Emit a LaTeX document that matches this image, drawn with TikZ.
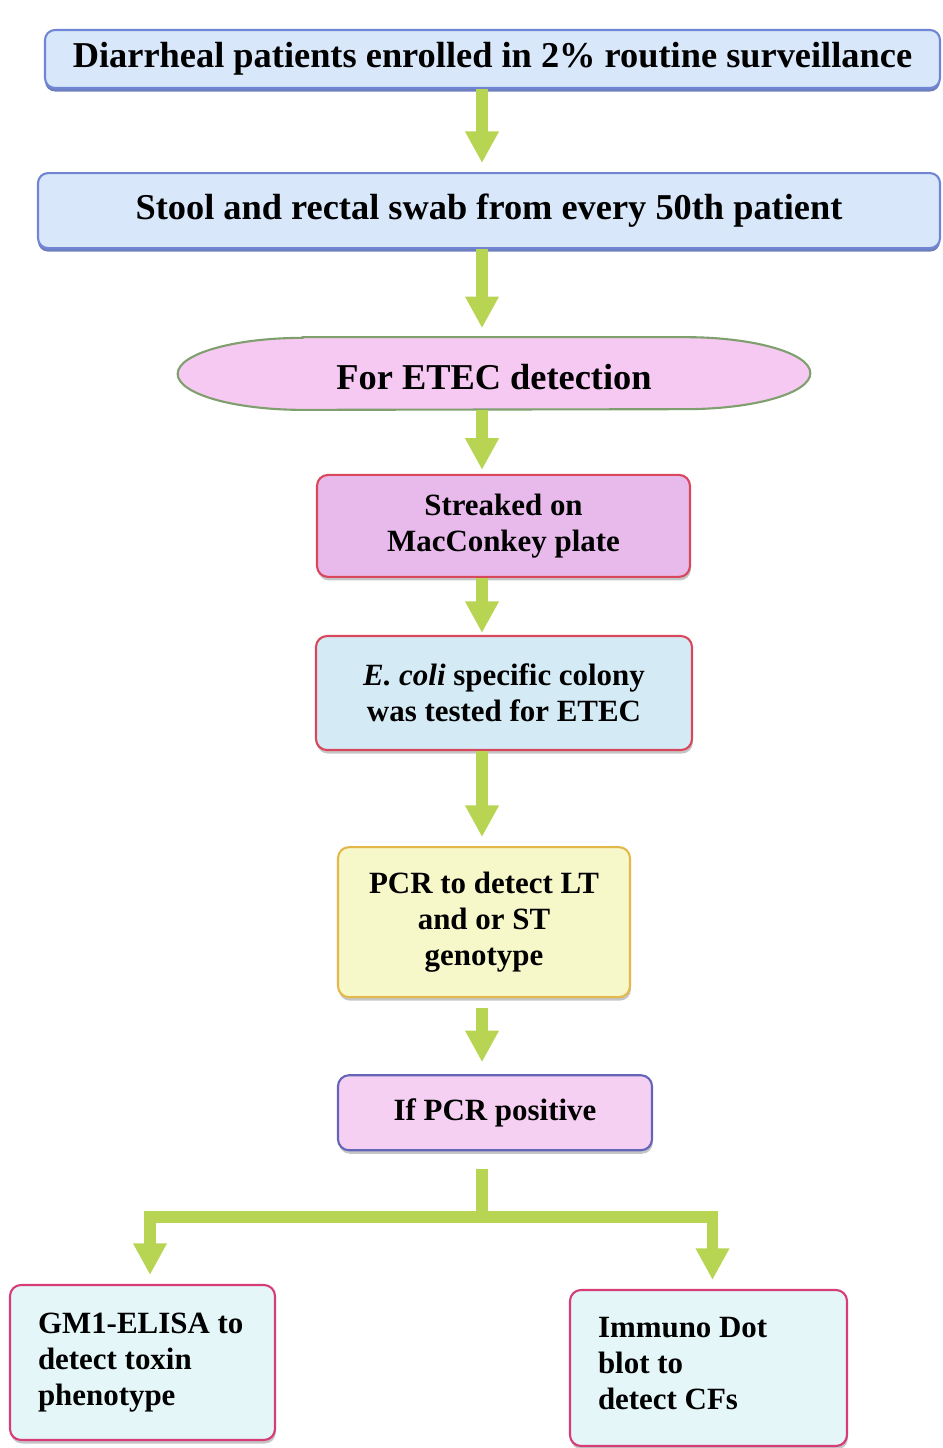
\documentclass[tikz,border=0pt]{standalone}
\usepackage{fontspec}
\setmainfont{Liberation Serif}
\usetikzlibrary{positioning, arrows.meta, shadows, backgrounds}

\definecolor{flowgreen}{HTML}{B7D452}
\definecolor{skyfill}{HTML}{D9E7FA}
\definecolor{skyline}{HTML}{7086D4}
\definecolor{skyshadow}{HTML}{4A5FB0}
\definecolor{pinkfill}{HTML}{F6C9F2}
\definecolor{ovalline}{HTML}{7FA06E}
\definecolor{lilacfill}{HTML}{E8BAEC}
\definecolor{redline}{HTML}{D8475C}
\definecolor{icefill}{HTML}{D4EBF6}
\definecolor{creamfill}{HTML}{F6F8CA}
\definecolor{goldline}{HTML}{E4B84A}
\definecolor{rosefill}{HTML}{F5D0F2}
\definecolor{violetline}{HTML}{6464B8}
\definecolor{mintfill}{HTML}{E4F6F8}
\definecolor{magline}{HTML}{D63C78}

\newcommand{\bigtext}{\bfseries\fontsize{20.7}{24}\selectfont}
\newcommand{\smalltext}{\bfseries\fontsize{17.6}{20.4}\selectfont}

\begin{document}
\begin{tikzpicture}
	% style
	[wide/.style={rectangle, rounded corners=0.2cm, draw=skyline, line width=1.2pt, fill=skyfill, inner sep=0pt, font=\bigtext, drop shadow={shadow xshift=0pt, shadow yshift=-2pt, fill=skyshadow, opacity=0.8}},
	oval/.style={rectangle, inner sep=0pt, font=\bigtext},
	oval_line/.style={draw=ovalline, line width=1.2pt, fill=pinkfill},
	step_box/.style={rectangle, rounded corners=0.22cm, line width=1.2pt, inner sep=0pt, align=center, font=\smalltext, drop shadow={shadow xshift=0.5pt, shadow yshift=-2pt, fill=black!45, opacity=0.5}},
	result_box/.style={step_box, draw=magline, fill=mintfill, align=flush left},
	flow/.style={-{Triangle[width=18pt,length=18pt]}, line width=6.8pt, draw=flowgreen, shorten >=0.18cm},
	trunk/.style={line width=6.8pt, draw=flowgreen}]

	\useasboundingbox (0,0) rectangle (18.84,-28.96);

	% surveillance
	\node [wide, minimum width=17.9cm, minimum height=1.16cm] (diarrhea) at (9.85,-1.18) {Diarrheal patients enrolled in 2\% routine surveillance};
	\node [wide, minimum width=18.04cm, minimum height=1.5cm] (stool) [below=1.66cm of diarrhea, xshift=-0.07cm] {Stool and rectal swab from every 50th patient};
	\node [oval, minimum width=12.64cm, minimum height=1.44cm, text height=0.66cm] (etec) [below=1.76cm of stool, xshift=0.1cm] {For ETEC detection};
	\begin{scope}[on background layer]
	\draw [oval_line] ([xshift=2.5cm]etec.north west) -- ([xshift=-2.5cm]etec.north east)
		arc [start angle=90, end angle=-90, x radius=2.5cm, y radius=0.72cm]
		-- ([xshift=2.5cm]etec.south west)
		arc [start angle=270, end angle=90, x radius=2.5cm, y radius=0.72cm] -- cycle;
	\end{scope}

	% culture and PCR
	\node [step_box, draw=redline, fill=lilacfill, minimum width=7.46cm, minimum height=2.04cm] (streak) [below=1.28cm of etec, xshift=0.19cm] {Streaked on\\MacConkey plate};
	\node [step_box, draw=redline, fill=icefill, minimum width=7.52cm, minimum height=2.28cm] (ecoli) [below=1.14cm of streak, xshift=0.01cm] {\textit{E. coli} specific colony\\was tested for ETEC};
	\node [step_box, draw=goldline, fill=creamfill, minimum width=5.84cm, minimum height=3cm] (pcr) [below=1.9cm of ecoli, xshift=-0.4cm] {PCR to detect LT\\and or ST\\genotype};
	\node [step_box, draw=violetline, fill=rosefill, minimum width=6.28cm, minimum height=1.5cm] (positive) [below=1.52cm of pcr, xshift=0.22cm] {If PCR positive};

	% follow-up tests
	\node [result_box, minimum width=5.3cm, minimum height=3.1cm, text width=4.18cm] (gm1) at (2.85,-27.25) {GM1-ELISA to\\detect toxin\\phenotype};
	\node [result_box, minimum width=5.54cm, minimum height=3.12cm, text width=4.42cm, text depth=1.61cm] (immuno) at (14.17,-27.36) {Immuno Dot\\blot to\\detect CFs};

	% connectors
	\coordinate (axis) at (9.64,0);
	\draw [flow] (diarrhea.south -| axis) -- (stool.north -| axis);
	\draw [flow] (stool.south -| axis) -- (etec.north -| axis);
	\draw [flow, shorten >=0.08cm] (etec.south -| axis) -- (streak.north -| axis);
	\draw [flow, shorten >=0.04cm] (streak.south -| axis) -- (ecoli.north -| axis);
	\draw [flow] (ecoli.south -| axis) -- (pcr.north -| axis);
	\draw [flow, shorten <=0.2cm, shorten >=0.24cm] (pcr.south -| axis) -- (positive.north -| axis);

	\coordinate (axis_pos) at (positive.south -| axis);
	\coordinate (split) at ([yshift=-1.32cm]axis_pos);
	\draw [trunk] ([yshift=-0.36cm]axis_pos) -- (split);
	\draw [flow] (split) -| ([xshift=0.15cm]gm1.north);
	\draw [flow] (split) -| ([xshift=0.08cm]immuno.north);
\end{tikzpicture}
\end{document}
